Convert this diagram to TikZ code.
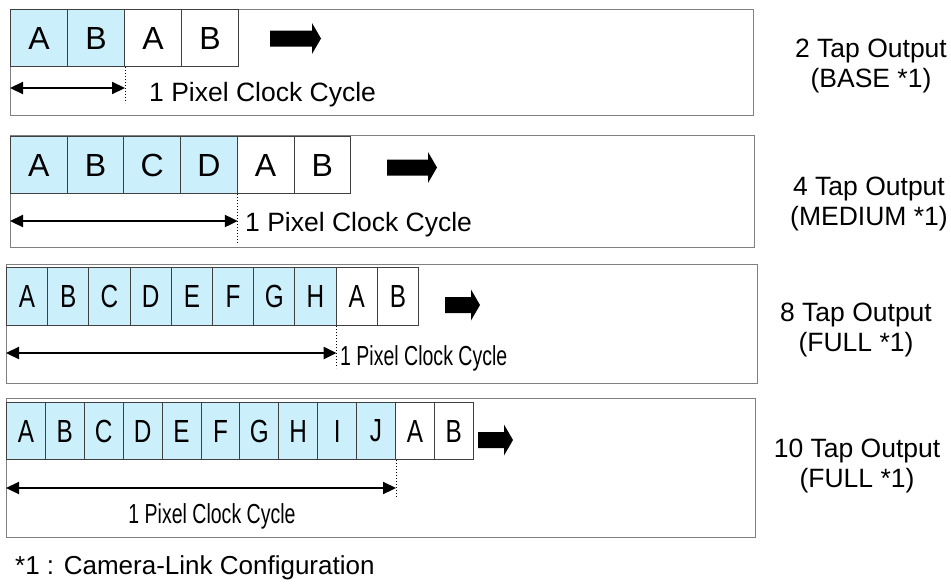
\documentclass[tikz,border=0pt]{standalone}
\usepackage{fontspec}
\setmainfont{Liberation Sans}
\newfontfamily\narrowfont[FakeStretch=0.76]{Liberation Sans}
\newfontfamily\slimfont[FakeStretch=0.71]{Liberation Sans}
\usepackage{tikz}
\usetikzlibrary{positioning,arrows.meta}
\tikzset{
    frame/.style={draw=black!50, line width=1pt},
    cell/.style={draw=black!75, line width=1pt, anchor=north west, inner sep=0pt,
        minimum width=#1, minimum height=57, font=\fontsize{32}{32}\selectfont},
    tap/.style={cell=#1, fill=cyan!20},
    narrow/.style={font=\narrowfont\fontsize{32}{32}\selectfont},
    span/.style={{Triangle[length=13pt,width=12pt]}-{Triangle[length=13pt,width=12pt]}, line width=2.2pt},
    tick/.style={dotted, line width=1pt},
    cyc/.style={inner sep=0pt, font=\fontsize{26.5}{30}\selectfont},
    slim/.style={font=\slimfont\fontsize{27.5}{30}\selectfont},
    tapname/.style={align=center, inner sep=0pt, font=\fontsize{26.5}{30}\selectfont},
    pics/fatarrow/.style={code={
        \fill (0,-8) -- (#1-9,-8) -- (#1-9,-15.5) -- (#1,0) -- (#1-9,15.5) -- (#1-9,8) -- (0,8) -- cycle;
    }}
}

\begin{document}
\begin{tikzpicture}[x=1pt, y=-1pt]
    \useasboundingbox (0,0) rectangle (951,587);

    % 2 taps
    \draw[frame] (10,9) rectangle (753,115);
    \foreach \l [count=\i] in {A,B}
        \node[tap=57] (t2c\i) at ({10+57*(\i-1)},9) {\l};
    \foreach \l [count=\i from 3] in {A,B}
        \node[cell=57] (t2c\i) at ({10+57*(\i-1)},9) {\l};
    \pic at (270,38.5) {fatarrow=51};
    \coordinate (t2s) at (10,88);
    \coordinate (t2d) at (t2c2.south east |- 0,103);
    \draw[tick] (t2c2.south east) -- (t2d);
    \draw[span] (t2s) -- (t2s -| t2d);
    \node[cyc, anchor=base west] (t2cyc) at (149,101.5) {1 Pixel Clock Cycle};
    \node[tapname] (t2name) at (871,66) {2 Tap Output\\(BASE *1)};

    % 4 taps
    \draw[frame] (10,135) rectangle (754,247);
    \foreach \l [count=\i] in {A,B,C,D}
        \node[tap=56.7] (t4c\i) at ({10+56.7*(\i-1)},136) {\l};
    \foreach \l [count=\i from 5] in {A,B}
        \node[cell=56.7] (t4c\i) at ({10+56.7*(\i-1)},136) {\l};
    \pic at (387,167.5) {fatarrow=50};
    \coordinate (t4s) at (10,221);
    \coordinate (t4d) at (t4c4.south east |- 0,243);
    \draw[tick] (t4c4.south east) -- (t4d);
    \draw[span] (t4s) -- (t4s -| t4d);
    \node[cyc, anchor=base west] (t4cyc) at (245,231.5) {1 Pixel Clock Cycle};
    \node[tapname] (t4name) at (869,204) {4 Tap Output\\(MEDIUM *1)};

    % 8 taps
    \draw[frame] (6,264) rectangle (757,383);
    \foreach \l [count=\i] in {A,B,C,D,E,F,G,H}
        \node[tap=41.2, narrow, minimum height=58] (t8c\i) at ({6+41.2*(\i-1)},267) {\l};
    \foreach \l [count=\i from 9] in {A,B}
        \node[cell=41.2, narrow, minimum height=58] (t8c\i) at ({6+41.2*(\i-1)},267) {\l};
    \pic at (445,305) {fatarrow=35};
    \coordinate (t8s) at (6,353);
    \coordinate (t8d) at (t8c8.south east |- 0,368);
    \draw[tick] (t8c8.south east) -- (t8d);
    \draw[span] (t8s) -- (t8s -| t8d);
    \node[cyc, slim, anchor=base west] (t8cyc) at (340,365) {1 Pixel Clock Cycle};
    \node[tapname] (t8name) at (856,330) {8 Tap Output\\(FULL *1)};

    % 10 taps
    \draw[frame] (6,398) rectangle (755,537);
    \foreach \l [count=\i] in {A,B,C,D,E,F,G,H,I,J}
        \node[tap=38.9, narrow] (t10c\i) at ({6+38.9*(\i-1)},402) {\l};
    \foreach \l [count=\i from 11] in {A,B}
        \node[cell=38.9, narrow] (t10c\i) at ({6+38.9*(\i-1)},402) {\l};
    \pic at (478,440) {fatarrow=35};
    \coordinate (t10s) at (6,488);
    \coordinate (t10d) at (t10c10.south east |- 0,497);
    \draw[tick] (t10c10.south east) -- (t10d);
    \draw[span] (t10s) -- (t10s -| t10d);
    \node[cyc, slim, anchor=base] (t10cyc) at (212,523) {1 Pixel Clock Cycle};
    \node[tapname] (t10name) at (857,466) {10 Tap Output\\(FULL *1)};

    % footnote
    \node[cyc, anchor=base west, font=\fontsize{26}{30}\selectfont] (note) at (15,574) {*1 : Camera-Link Configuration};
\end{tikzpicture}
\end{document}
